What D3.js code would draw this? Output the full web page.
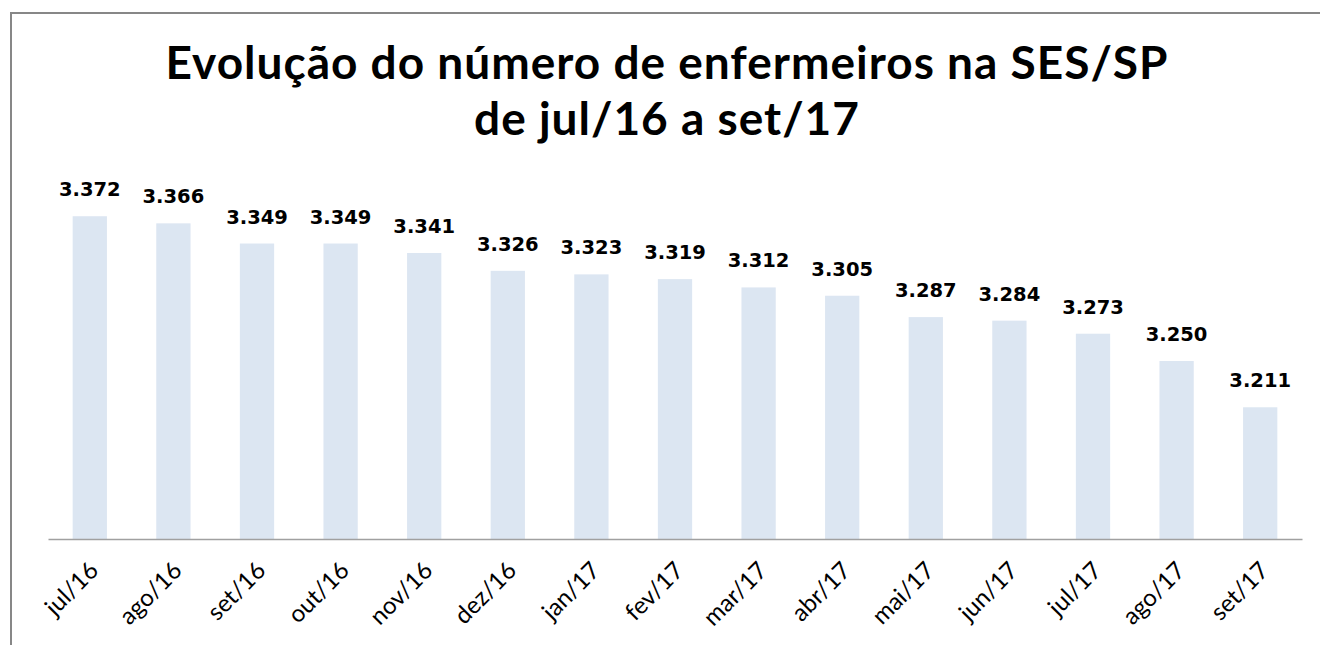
<!DOCTYPE html>
<html>
<head>
<meta charset="utf-8">
<script src="https://cdn.jsdelivr.net/npm/d3@7"></script>
<style>
  html, body { margin: 0; background: #fff; overflow: hidden; }
  svg { display: block; }
</style>
</head>
<body>
<svg id="chart" width="1320" height="645"></svg>
<script>
const months = ["jul/16", "ago/16", "set/16", "out/16", "nov/16", "dez/16", "jan/17",
  "fev/17", "mar/17", "abr/17", "mai/17", "jun/17", "jul/17", "ago/17", "set/17"];
const nurses = [3372, 3366, 3349, 3349, 3341, 3326, 3323, 3319, 3312, 3305, 3287, 3284, 3273, 3250, 3211];
const titleLines = ["Evolução do número de enfermeiros na SES/SP", "de jul/16 a set/17"];

const svg = d3.select("#chart"),
  width = +svg.attr("width"),
  height = +svg.attr("height");

// frame (cropped on right and bottom like the original)
svg.append("path")
  .attr("d", `M11,${height + 5} V13 H${width + 10}`)
  .attr("fill", "none")
  .attr("stroke", "#878787")
  .attr("stroke-width", 2);

const x = d3.scaleBand()
  .domain(months)
  .range([48, 1302])
  .paddingInner(0.59)
  .paddingOuter(0.295);

const y = d3.scaleLinear()
  .domain([3100, 3400])
  .range([539, 183]);

const fmt = d3.formatLocale({ decimal: ",", thousands: ".", grouping: [3], currency: ["", ""] }).format(",d");

// title
const title = svg.append("text")
  .attr("text-anchor", "middle")
  .style("font-family", "Lato, 'Open Sans', sans-serif")
  .style("font-weight", "bold")
  .style("font-size", "46px")
  .style("letter-spacing", "1px")
  .attr("fill", "#000");
title.selectAll("tspan")
  .data(titleLines)
  .join("tspan")
  .attr("x", 667)
  .attr("y", (d, i) => 79 + i * 56)
  .text(d => d);

// bars
svg.append("g")
  .selectAll("rect")
  .data(nurses)
  .join("rect")
  .attr("x", (d, i) => x(months[i]))
  .attr("width", x.bandwidth())
  .attr("y", d => y(d))
  .attr("height", d => y(3100) - y(d))
  .attr("fill", "#dce6f2");

// value labels
svg.append("g")
  .selectAll("text")
  .data(nurses)
  .join("text")
  .attr("x", (d, i) => x(months[i]) + x.bandwidth() / 2)
  .attr("y", d => y(d) - 20)
  .attr("text-anchor", "middle")
  .style("font-family", "'DejaVu Sans', Verdana, sans-serif")
  .style("font-weight", "bold")
  .style("font-size", "19.5px")
  .attr("fill", "#000")
  .text(d => fmt(d));

// x axis
const xAxis = svg.append("g")
  .attr("transform", `translate(0,${y(3100)})`)
  .call(d3.axisBottom(x).tickSize(0).tickPadding(0));
xAxis.select(".domain").attr("stroke", "#a0a0a0").attr("stroke-width", 1.5);
xAxis.selectAll(".tick text")
  .attr("text-anchor", "end")
  .attr("dy", 0)
  .attr("transform", "translate(10,33) rotate(-45)")
  .style("font-family", "Lato, 'Open Sans', sans-serif")
  .style("font-size", "24px")
  .attr("fill", "#000");
</script>
</body>
</html>
